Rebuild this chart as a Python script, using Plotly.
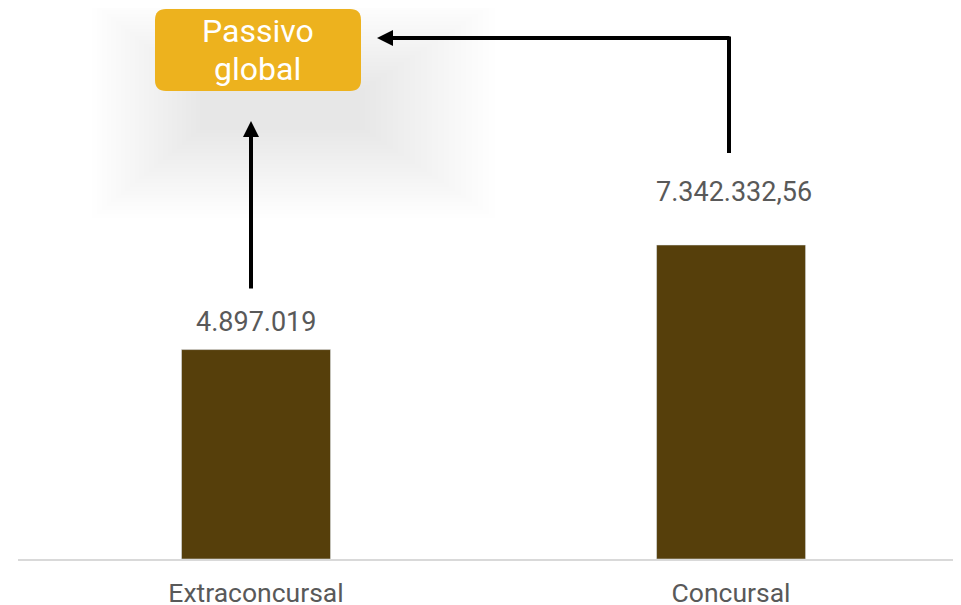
import plotly.graph_objects as go

categories = ["Extraconcursal", "Concursal"]
values = [4897019.0, 7342332.56]
value_labels = ["4.897.019", "7.342.332,56"]
label_shift = [10, 35]
label_xshift = [0, 3]
box_lines = ["Passivo", "global"]

BAR = "#563F0B"
GOLD = "#EDB21E"
GREY = "#595959"

OFF = 8  # page body margin
W, H = 953, 597
ML, MR, MT, MB = 10, 0, 0, 46
PW = W - ML - MR
PH = H - MT - MB
X0, X1 = -0.501, 1.484
YMAX = 7342332.56 * PH / 314.0


def xd(px):
    return X0 + (px - OFF - ML) / PW * (X1 - X0)


def yd(py):
    return (MT + PH - (py - OFF)) / PH * YMAX


def xp(px):
    return (px - OFF - ML) / PW


def yp(py):
    return (MT + PH - (py - OFF)) / PH


fig = go.Figure()
fig.add_trace(go.Bar(x=categories, y=values, marker_color=BAR, width=0.3137,
                     hoverinfo="skip"))

shapes = []
# soft shadow layers
outer = (92, 2, 495, 218)
inner = (200, 88, 365, 130)
n = 24
for i in range(n):
    t = i / (n - 1)
    x0 = outer[0] + (inner[0] - outer[0]) * t
    y0 = outer[1] + (inner[1] - outer[1]) * t
    x1 = outer[2] + (inner[2] - outer[2]) * t
    y1 = outer[3] + (inner[3] - outer[3]) * t
    shapes.append(dict(type="rect", xref="paper", yref="paper",
                       x0=xp(x0), x1=xp(x1), y0=yp(y1), y1=yp(y0),
                       line=dict(width=0), fillcolor="rgba(0,0,0,0.0058)",
                       layer="below"))


def rounded(px0, py0, px1, py1, r):
    rx = r / PW
    ry = r / PH
    a, b = xp(px0), xp(px1)
    top, bot = yp(py0), yp(py1)
    return (f"M{a+rx},{top} L{b-rx},{top} Q{b},{top} {b},{top-ry} "
            f"L{b},{bot+ry} Q{b},{bot} {b-rx},{bot} L{a+rx},{bot} "
            f"Q{a},{bot} {a},{bot+ry} L{a},{top-ry} Q{a},{top} {a+rx},{top} Z")


shapes.append(dict(type="path", xref="paper", yref="paper",
                   path=rounded(155, 9, 361, 91, 11),
                   fillcolor=GOLD, line=dict(width=0)))
# vertical segment of elbow arrow
shapes.append(dict(type="line", xref="x", yref="y",
                   x0=xd(729), x1=xd(729), y0=yd(153), y1=yd(36.5),
                   line=dict(color="black", width=4)))

annotations = []
for c, v, lab, s, xs in zip(categories, values, value_labels, label_shift,
                            label_xshift):
    annotations.append(dict(x=c, y=v, xref="x", yref="y", text=lab,
                            showarrow=False, yanchor="bottom", yshift=s,
                            xshift=xs,
                            font=dict(family="Roboto", size=27, color=GREY)))
for line, py in zip(box_lines, [31, 69]):
    annotations.append(dict(x=xp(258), y=yp(py), xref="paper", yref="paper",
                            xanchor="center", yanchor="middle",
                            text=line, showarrow=False,
                            font=dict(family="Roboto", size=32, color="white")))
annotations.append(dict(x=xd(251), y=yd(121), xref="x", yref="y",
                        ax=xd(251), ay=yd(290), axref="x", ayref="y",
                        text="", showarrow=True, arrowhead=2, arrowsize=0.8,
                        arrowwidth=4, arrowcolor="black", standoff=0))
annotations.append(dict(x=xd(377), y=yd(38), xref="x", yref="y",
                        ax=xd(731), ay=yd(38), axref="x", ayref="y",
                        text="", showarrow=True, arrowhead=2, arrowsize=0.8,
                        arrowwidth=4, arrowcolor="black", standoff=0))

fig.update_layout(
    width=W, height=H,
    margin=dict(l=ML, r=MR, t=MT, b=MB, pad=0),
    paper_bgcolor="white", plot_bgcolor="white",
    showlegend=False,
    shapes=shapes, annotations=annotations,
    xaxis=dict(range=[X0, X1], showgrid=False, zeroline=False, automargin=False,
               showline=True, linecolor="#D9D9D9", linewidth=2,
               ticks="outside", ticklen=9, tickcolor="rgba(0,0,0,0)",
               tickfont=dict(family="Roboto", size=26.5, color=GREY)),
    yaxis=dict(range=[0, YMAX], visible=False, showgrid=False,
               automargin=False),
)

fig.write_html("out.html")
